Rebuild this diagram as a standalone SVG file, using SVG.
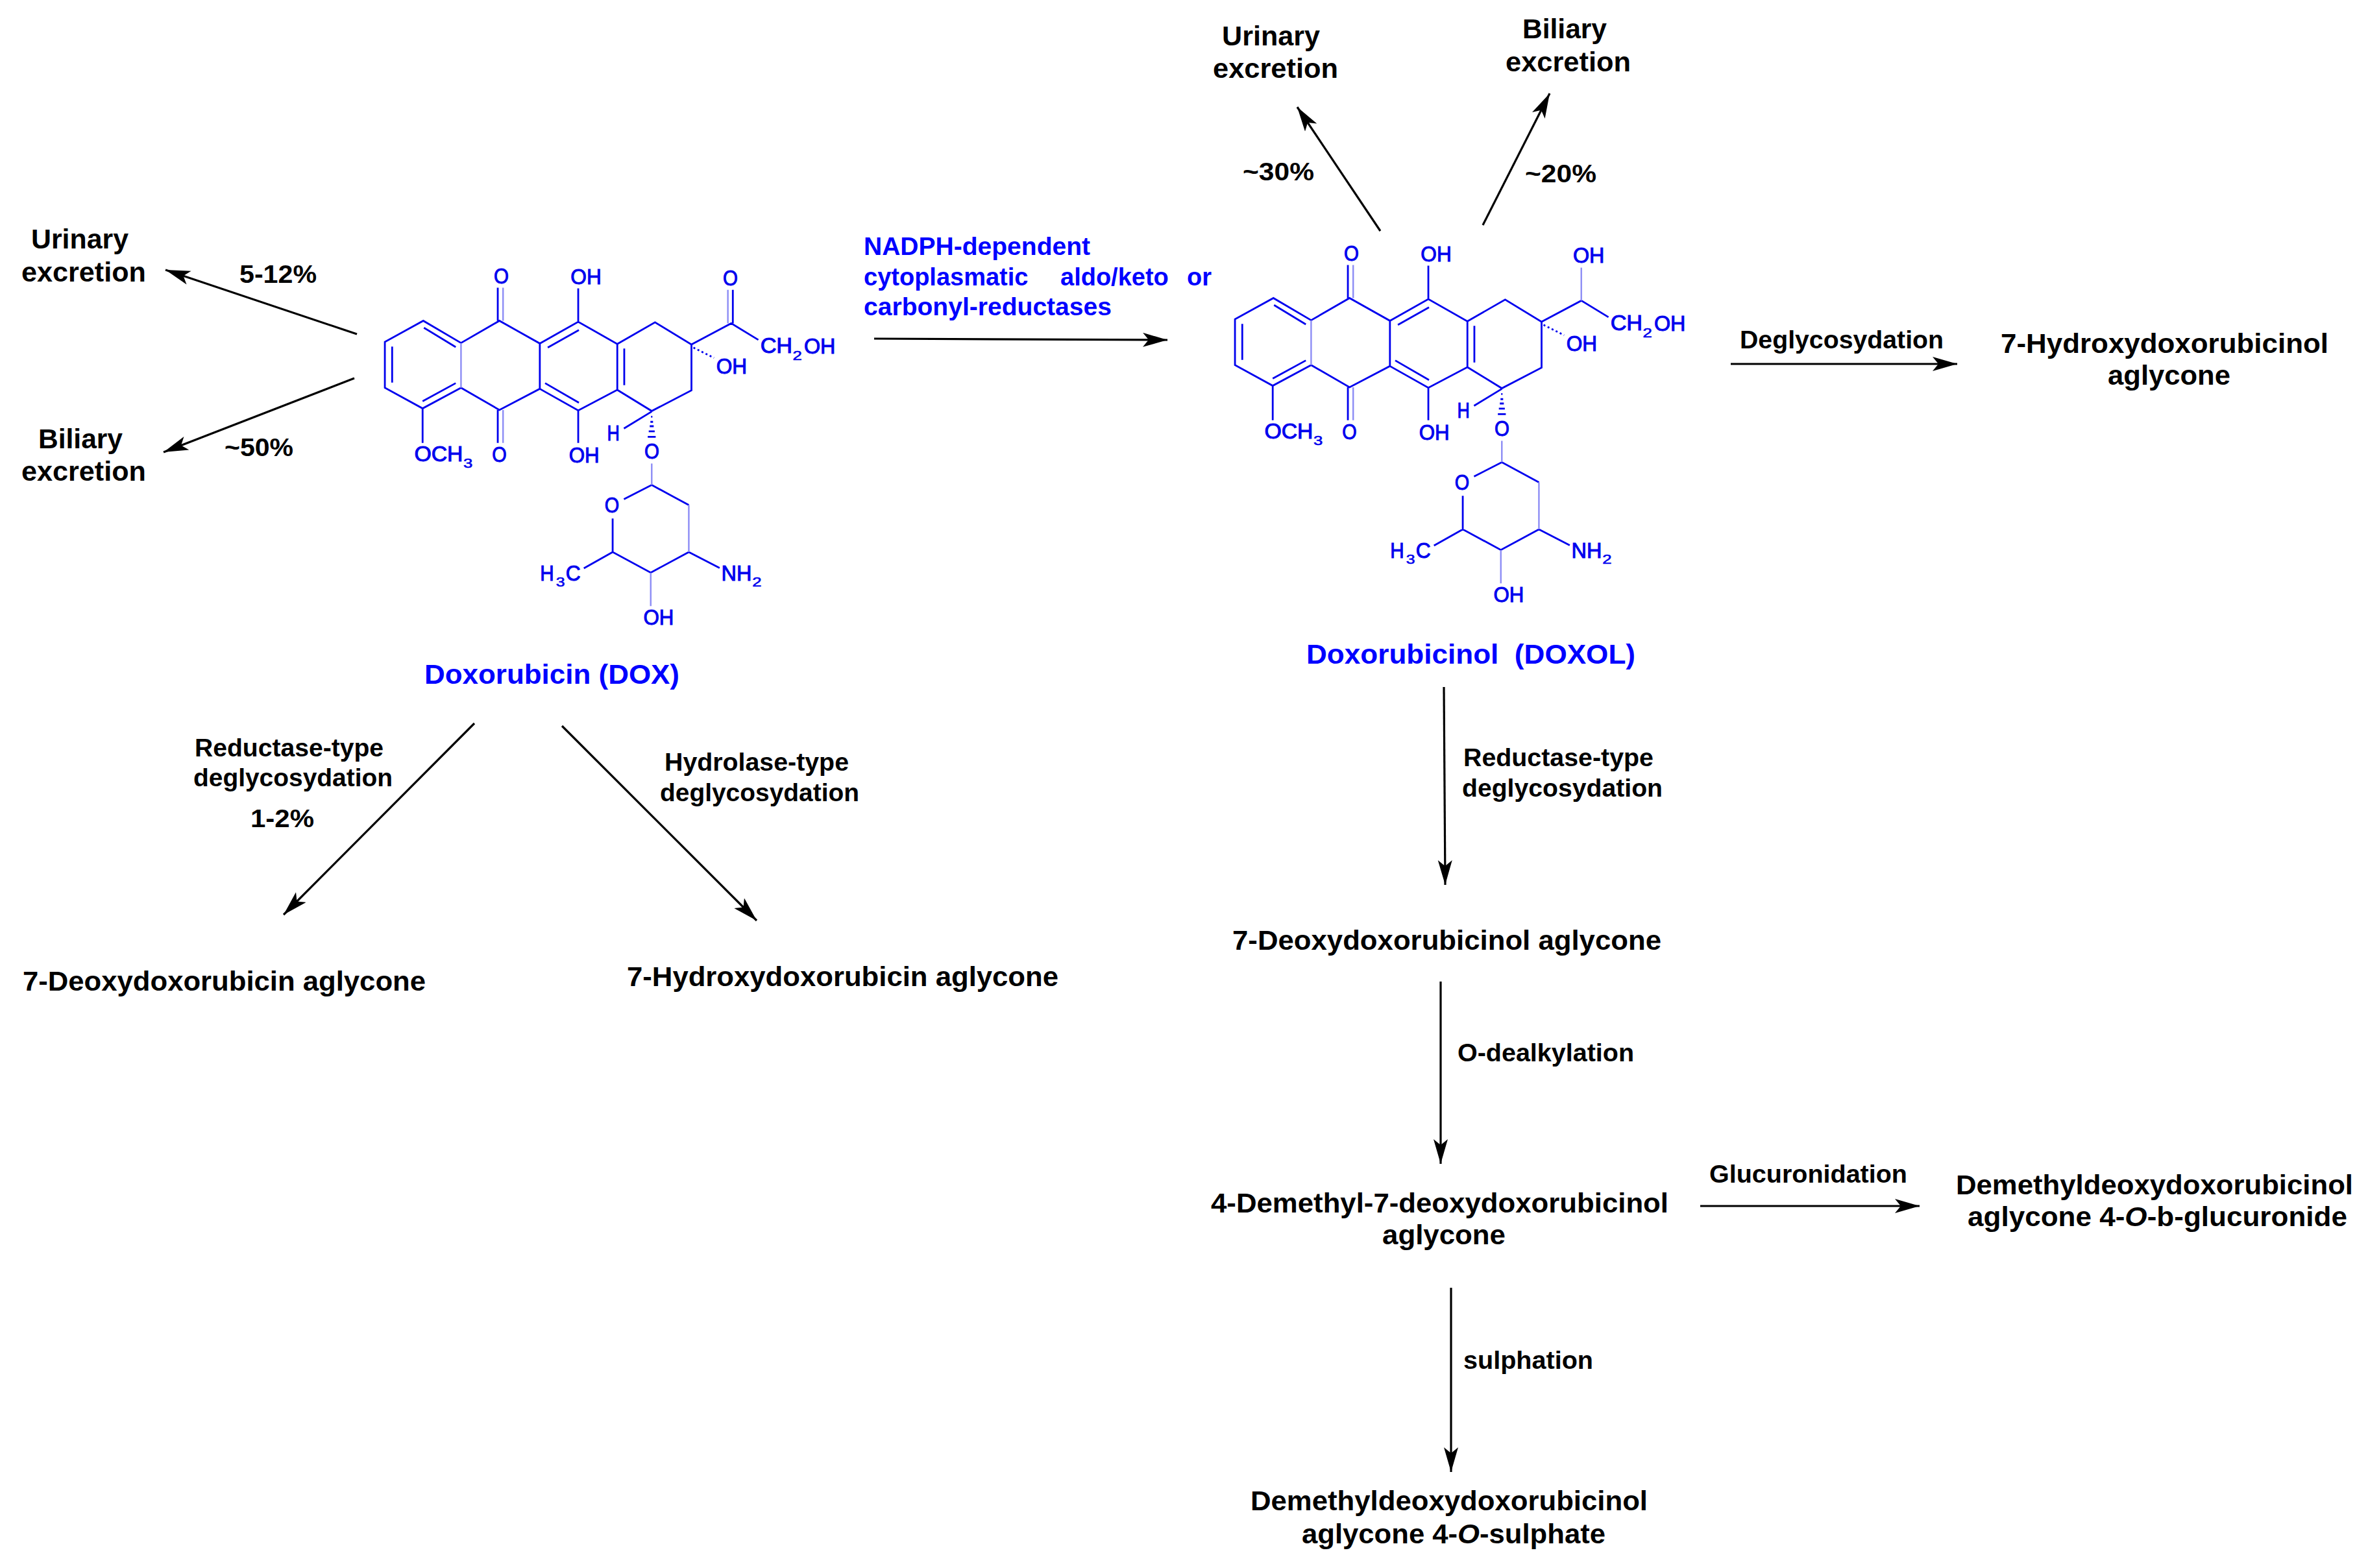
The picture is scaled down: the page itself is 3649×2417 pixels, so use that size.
<svg xmlns="http://www.w3.org/2000/svg" width="3649" height="2417" viewBox="0 0 3649 2417">
<style>
text{font-family:"Liberation Sans",Arial,sans-serif}
.l{font-size:43px;font-weight:700;fill:#000}
.t{font-size:38px;font-weight:700;fill:#000}
.b{font-size:43px;font-weight:700;fill:#0000ff}
.bt{font-size:38px;font-weight:700;fill:#0000ff}
.a{font-size:84px;fill:#0000ee;stroke:#0000ee;stroke-width:2.6}
.s{font-size:50px;fill:#0000ee;stroke:#0000ee;stroke-width:1.5}
.bond{fill:none;stroke:#0000ee;stroke-width:2.8;vector-effect:non-scaling-stroke}
.lite{fill:none;stroke:#8c8cf5;stroke-width:2.4;vector-effect:non-scaling-stroke}
.con{fill:none;stroke:#000;stroke-width:3.2;marker-end:url(#ah)}
</style>
<defs>
<marker id="ah" markerUnits="userSpaceOnUse" markerWidth="40" markerHeight="24" refX="38" refY="11" orient="auto"><path d="M38 11L0 0L9 11L0 22Z" fill="#000"/></marker>
<g id="core">
<path class="bond" d="M334 374L220 288L104 370V548L218 628L334 548M334 374L450 288L572 376V552L450 634L334 548M572 376L688 292L806 378V556L688 636L572 552M806 378L920 294L1030 380V558L910 638L806 556M1030 380L1150 298L1232 362M126 388V528M222 315L318 390M218 600L318 530M596 392L690 324M588 530L690 606M827 396V538M445 288V160M445 634V762M688 292V162M688 636V762M218 628V762M910 640L826 706M826 980L910 925L1022 1003M1022 1185L907 1265L792 1185V1055M792 1185L705 1248M1022 1185L1115 1247"/>
<path class="lite" d="M334 374V548M461 288V160M461 634V762M910 842V925M1022 1003V1185M907 1265V1395"/>
<path class="bond" d="M908 660h4M906 680h8M904 697h12M901 717h18M898 738h24"/>
<path class="bond" stroke-dasharray="3 4" d="M1036 392L1098 432"/>
</g>
</defs>
<g id="connectors">
<line class="con" x1="550" y1="515" x2="255" y2="416"/>
<line class="con" x1="546" y1="583" x2="252" y2="697"/>
<line class="con" x1="1347" y1="522" x2="1799" y2="524"/>
<line class="con" x1="731" y1="1115" x2="437" y2="1410"/>
<line class="con" x1="866" y1="1119" x2="1166" y2="1419"/>
<line class="con" x1="2127" y1="356" x2="1999" y2="165"/>
<line class="con" x1="2285" y1="347" x2="2388" y2="144"/>
<line class="con" x1="2667" y1="561" x2="3016" y2="561"/>
<line class="con" x1="2225" y1="1059" x2="2227" y2="1364"/>
<line class="con" x1="2220" y1="1513" x2="2220" y2="1794"/>
<line class="con" x1="2620" y1="1859" x2="2958" y2="1859"/>
<line class="con" x1="2236" y1="1985" x2="2236" y2="2269"/>
</g>
<g id="mol-dox" transform="translate(540 380) scale(.5102 .3974)">
<use href="#core"/>
<path class="bond" d="M1155 298V168"/><path class="lite" d="M1140 298V168"/>
<text class="a" x="433" y="143" textLength="45" lengthAdjust="spacingAndGlyphs">O</text>
<text class="a" x="665" y="147" textLength="93" lengthAdjust="spacingAndGlyphs">OH</text>
<text class="a" x="1125" y="150" textLength="45" lengthAdjust="spacingAndGlyphs">O</text>
<text class="a" x="1238" y="412" textLength="97" lengthAdjust="spacingAndGlyphs">CH</text><text class="s" x="1336" y="440" textLength="28" lengthAdjust="spacingAndGlyphs">2</text><text class="a" x="1370" y="415" textLength="95" lengthAdjust="spacingAndGlyphs">OH</text>
<text class="a" x="1105" y="492" textLength="93" lengthAdjust="spacingAndGlyphs">OH</text>
<text class="a" x="193" y="833" textLength="147" lengthAdjust="spacingAndGlyphs">OCH</text><text class="s" x="341" y="858" textLength="28" lengthAdjust="spacingAndGlyphs">3</text>
<text class="a" x="428" y="835" textLength="44" lengthAdjust="spacingAndGlyphs">O</text>
<text class="a" x="660" y="838" textLength="92" lengthAdjust="spacingAndGlyphs">OH</text>
<text class="a" x="775" y="752" textLength="38" lengthAdjust="spacingAndGlyphs">H</text>
<text class="a" x="888" y="822" textLength="45" lengthAdjust="spacingAndGlyphs">O</text>
<text class="a" x="768" y="1032" textLength="44" lengthAdjust="spacingAndGlyphs">O</text>
<text class="a" x="573" y="1295" textLength="42" lengthAdjust="spacingAndGlyphs">H</text><text class="s" x="621" y="1318" textLength="27" lengthAdjust="spacingAndGlyphs">3</text><text class="a" x="650" y="1295" textLength="45" lengthAdjust="spacingAndGlyphs">C</text>
<text class="a" x="1120" y="1295" textLength="92" lengthAdjust="spacingAndGlyphs">NH</text><text class="s" x="1214" y="1318" textLength="28" lengthAdjust="spacingAndGlyphs">2</text>
<text class="a" x="885" y="1467" textLength="92" lengthAdjust="spacingAndGlyphs">OH</text>
</g>
<g id="mol-doxol" transform="translate(1850 345) scale(.5102 .3974)">
<use href="#core"/>
<path class="lite" d="M1150 298V170"/>
<text class="a" x="433" y="143" textLength="45" lengthAdjust="spacingAndGlyphs">O</text>
<text class="a" x="665" y="147" textLength="93" lengthAdjust="spacingAndGlyphs">OH</text>
<text class="a" x="1125" y="150" textLength="95" lengthAdjust="spacingAndGlyphs">OH</text>
<text class="a" x="1238" y="412" textLength="97" lengthAdjust="spacingAndGlyphs">CH</text><text class="s" x="1336" y="440" textLength="28" lengthAdjust="spacingAndGlyphs">2</text><text class="a" x="1370" y="415" textLength="95" lengthAdjust="spacingAndGlyphs">OH</text>
<text class="a" x="1105" y="492" textLength="93" lengthAdjust="spacingAndGlyphs">OH</text>
<text class="a" x="193" y="833" textLength="147" lengthAdjust="spacingAndGlyphs">OCH</text><text class="s" x="341" y="858" textLength="28" lengthAdjust="spacingAndGlyphs">3</text>
<text class="a" x="428" y="835" textLength="44" lengthAdjust="spacingAndGlyphs">O</text>
<text class="a" x="660" y="838" textLength="92" lengthAdjust="spacingAndGlyphs">OH</text>
<text class="a" x="775" y="752" textLength="38" lengthAdjust="spacingAndGlyphs">H</text>
<text class="a" x="888" y="822" textLength="45" lengthAdjust="spacingAndGlyphs">O</text>
<text class="a" x="768" y="1032" textLength="44" lengthAdjust="spacingAndGlyphs">O</text>
<text class="a" x="573" y="1295" textLength="42" lengthAdjust="spacingAndGlyphs">H</text><text class="s" x="621" y="1318" textLength="27" lengthAdjust="spacingAndGlyphs">3</text><text class="a" x="650" y="1295" textLength="45" lengthAdjust="spacingAndGlyphs">C</text>
<text class="a" x="1120" y="1295" textLength="92" lengthAdjust="spacingAndGlyphs">NH</text><text class="s" x="1214" y="1318" textLength="28" lengthAdjust="spacingAndGlyphs">2</text>
<text class="a" x="885" y="1467" textLength="92" lengthAdjust="spacingAndGlyphs">OH</text>
</g>
<g id="labels-left">
<text class="l" x="48" y="383" textLength="150" lengthAdjust="spacingAndGlyphs">Urinary</text>
<text class="l" x="33" y="434" textLength="192" lengthAdjust="spacingAndGlyphs">excretion</text>
<text class="l" x="59" y="691" textLength="130" lengthAdjust="spacingAndGlyphs">Biliary</text>
<text class="l" x="33" y="741" textLength="192" lengthAdjust="spacingAndGlyphs">excretion</text>
<text class="t" x="369" y="436" textLength="119" lengthAdjust="spacingAndGlyphs">5-12%</text>
<text class="t" x="346" y="703" textLength="106" lengthAdjust="spacingAndGlyphs">~50%</text>
<text class="b" x="654" y="1054" textLength="393" lengthAdjust="spacingAndGlyphs">Doxorubicin (DOX)</text>
<text class="t" x="300" y="1166" textLength="291" lengthAdjust="spacingAndGlyphs">Reductase-type</text>
<text class="t" x="298" y="1212" textLength="307" lengthAdjust="spacingAndGlyphs">deglycosydation</text>
<text class="t" x="386" y="1275" textLength="98" lengthAdjust="spacingAndGlyphs">1-2%</text>
<text class="t" x="1024" y="1188" textLength="284" lengthAdjust="spacingAndGlyphs">Hydrolase-type</text>
<text class="t" x="1017" y="1235" textLength="307" lengthAdjust="spacingAndGlyphs">deglycosydation</text>
<text class="l" x="35" y="1527" textLength="621" lengthAdjust="spacingAndGlyphs">7-Deoxydoxorubicin aglycone</text>
<text class="l" x="966" y="1520" textLength="665" lengthAdjust="spacingAndGlyphs">7-Hydroxydoxorubicin aglycone</text>
</g>
<g id="labels-enzyme">
<text class="bt" x="1331" y="393" textLength="349" lengthAdjust="spacingAndGlyphs">NADPH-dependent</text>
<text class="bt" y="440"><tspan x="1331">cytoplasmatic</tspan><tspan x="1634">aldo/keto</tspan><tspan x="1829">or</tspan></text>
<text class="bt" x="1331" y="486" textLength="382" lengthAdjust="spacingAndGlyphs">carbonyl-reductases</text>
</g>
<g id="labels-right">
<text class="l" x="1883" y="70" textLength="151" lengthAdjust="spacingAndGlyphs">Urinary</text>
<text class="l" x="1869" y="120" textLength="193" lengthAdjust="spacingAndGlyphs">excretion</text>
<text class="l" x="2346" y="59" textLength="130" lengthAdjust="spacingAndGlyphs">Biliary</text>
<text class="l" x="2320" y="110" textLength="193" lengthAdjust="spacingAndGlyphs">excretion</text>
<text class="t" x="1915" y="278" textLength="110" lengthAdjust="spacingAndGlyphs">~30%</text>
<text class="t" x="2350" y="281" textLength="110" lengthAdjust="spacingAndGlyphs">~20%</text>
<text class="b" x="2013" y="1023" textLength="507" lengthAdjust="spacingAndGlyphs" xml:space="preserve">Doxorubicinol  (DOXOL)</text>
<text class="t" x="2681" y="537" textLength="314" lengthAdjust="spacingAndGlyphs">Deglycosydation</text>
<text class="l" x="3083" y="544" textLength="505" lengthAdjust="spacingAndGlyphs">7-Hydroxydoxorubicinol</text>
<text class="l" x="3248" y="593" textLength="189" lengthAdjust="spacingAndGlyphs">aglycone</text>
<text class="t" x="2255" y="1181" textLength="293" lengthAdjust="spacingAndGlyphs">Reductase-type</text>
<text class="t" x="2253" y="1228" textLength="309" lengthAdjust="spacingAndGlyphs">deglycosydation</text>
<text class="l" x="1899" y="1464" textLength="661" lengthAdjust="spacingAndGlyphs">7-Deoxydoxorubicinol aglycone</text>
<text class="t" x="2246" y="1636" textLength="272" lengthAdjust="spacingAndGlyphs">O-dealkylation</text>
<text class="l" x="1866" y="1869" textLength="705" lengthAdjust="spacingAndGlyphs">4-Demethyl-7-deoxydoxorubicinol</text>
<text class="l" x="2130" y="1918" textLength="190" lengthAdjust="spacingAndGlyphs">aglycone</text>
<text class="t" x="2634" y="1823" textLength="305" lengthAdjust="spacingAndGlyphs">Glucuronidation</text>
<text class="l" x="3014" y="1841" textLength="612" lengthAdjust="spacingAndGlyphs">Demethyldeoxydoxorubicinol</text>
<text class="l" x="3032" y="1890" textLength="585" lengthAdjust="spacingAndGlyphs">aglycone 4-<tspan font-style="italic">O</tspan>-b-glucuronide</text>
<text class="t" x="2255" y="2110" textLength="200" lengthAdjust="spacingAndGlyphs">sulphation</text>
<text class="l" x="1927" y="2328" textLength="612" lengthAdjust="spacingAndGlyphs">Demethyldeoxydoxorubicinol</text>
<text class="l" x="2006" y="2379" textLength="468" lengthAdjust="spacingAndGlyphs">aglycone 4-<tspan font-style="italic">O</tspan>-sulphate</text>
</g>
</svg>
